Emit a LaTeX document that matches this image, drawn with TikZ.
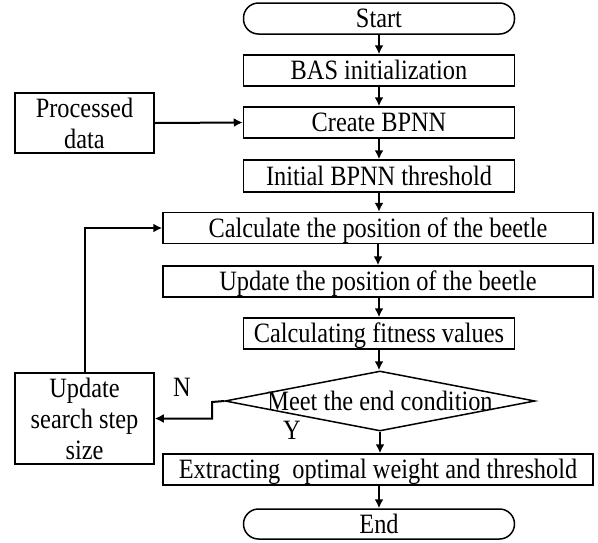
\documentclass[tikz,border=0pt]{standalone}
\usepackage{fontspec}
\setmainfont{Liberation Serif}[FakeStretch=0.87]
\usetikzlibrary{arrows.meta,shapes.geometric}
\begin{document}
\begin{tikzpicture}[x=1pt,y=-1pt,
  font=\fontsize{28}{31}\selectfont,
  box/.style={draw,line width=1.5pt,inner sep=0pt,align=center},
  oneline/.style={text height=21pt,text depth=3pt},
  narrow/.style={box,oneline,minimum width=271pt,minimum height=31pt},
  wide/.style={box,oneline,minimum width=430pt,minimum height=31pt},
  term/.style={narrow,rounded corners=15pt},
  side/.style={box,minimum width=139pt},
  arr/.style={line width=2pt,-{Latex[length=9pt,width=9pt]}}]
\useasboundingbox (0,0) rectangle (598,542);
\node[term]   (start)  at (379,18.5) {Start};
\node[narrow] (bas)    at (379,70.5) {BAS initialization};
\node[narrow] (create) at (379,122.5) {Create BPNN};
\node[narrow,minimum height=32pt] (init) at (379,176) {Initial BPNN threshold};
\node[wide]   (calc)   at (378,228) {Calculate the position of the beetle};
\node[wide]   (upd)    at (378,281.5) {Update the position of the beetle};
\node[narrow] (fit)    at (379,333.5) {Calculating fitness values};
\node[draw,line width=1.5pt,shape=diamond,inner sep=0pt,minimum width=310pt,minimum height=60pt] (dia) at (380,401) {};
\node[oneline,inner sep=0pt] (diat) at (380,401) {Meet the end condition};
\node[wide]   (ext)    at (378,469.5) {Extracting\ \ optimal weight and threshold};
\node[term,minimum height=30pt] (endn) at (379,524) {End};
\node[side,minimum height=60pt] (proc) at (84.5,123) {Processed\\data};
\node[side,minimum height=91pt] (ups)  at (84.5,418.5) {Update\\search step\\size};
\node (nlab) at (182,387) {N};
\node (ylab) at (292,430) {Y};
\coordinate (bend1) at (212,402);
\coordinate (bend2) at (212,418.5);
\draw[arr] (start.south) -- (start.south |- bas.north);
\draw[arr] (bas.south) -- (bas.south |- create.north);
\draw[arr] (create.south) -- (create.south |- init.north);
\draw[arr] (init.south) -- (init.south |- calc.north);
\draw[arr] (upd.north |- calc.south) -- (upd.north);
\draw[arr] (fit.north |- upd.south) -- (fit.north);
\draw[arr] (fit.south) -- (fit.south |- dia.north);
\draw[arr] (dia.south) -- (dia.south |- ext.north);
\draw[arr] (endn.north |- ext.south) -- (endn.north);
\draw[arr] (proc.east) -- (create.west);
\draw[arr] (dia.west) -- (bend1) -- (bend2) -- (ups.east);
\draw[arr] (ups.north) -- (ups.north |- calc.west) -- (calc.west);
\end{tikzpicture}
\end{document}
